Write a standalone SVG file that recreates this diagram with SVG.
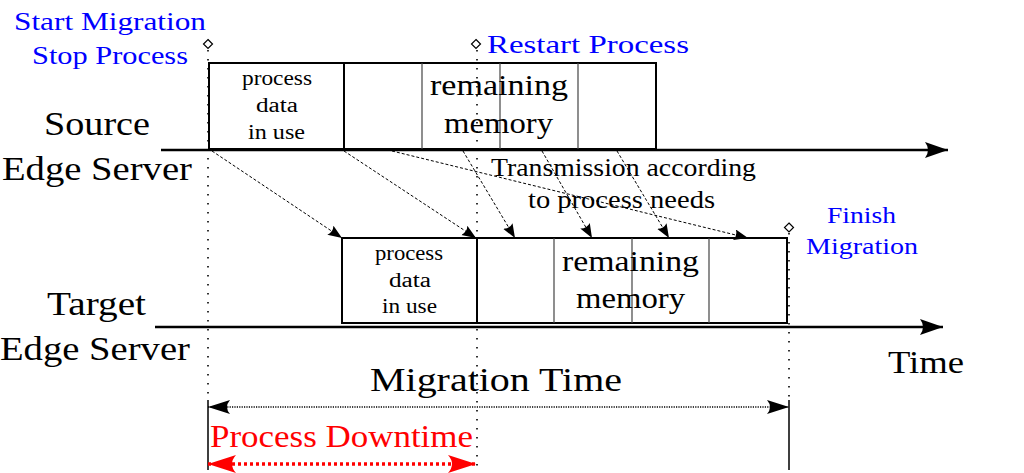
<svg xmlns="http://www.w3.org/2000/svg" width="1024" height="473" viewBox="0 0 1024 473">
<style>
text{font-family:"Liberation Serif","Times New Roman",Tinos,"Noto Serif","DejaVu Serif",Times,serif}
.blue{fill:#0000ff}
.red{fill:#ff0000}
.box{fill:none;stroke:#000;stroke-width:2}
.thin{stroke:#444;stroke-width:1.2}
.thick{stroke:#000;stroke-width:2}
.axis{stroke:#000;stroke-width:2.5;fill:none}
.vdot{stroke:#000;stroke-width:1.6;stroke-dasharray:1.6 7.4;fill:none}
.vsol{stroke:#000;stroke-width:1.5;fill:none}
.dash{stroke:#000;stroke-width:1;stroke-dasharray:3 2;fill:none}
.diam{fill:#fff;stroke:#000;stroke-width:1.2}
</style>
<defs>
<marker id="ah" markerUnits="userSpaceOnUse" markerWidth="24" markerHeight="18" refX="23" refY="8" orient="auto">
<path d="M0,0 L23,8 L0,16 Q6,8 0,0 Z" fill="#000"/>
</marker>
<marker id="sh" markerUnits="userSpaceOnUse" markerWidth="16" markerHeight="12" refX="14" refY="5.5" orient="auto">
<path d="M0,0 L14,5.5 L0,11 Q3.5,5.5 0,0 Z" fill="#000"/>
</marker>
<marker id="dh" markerUnits="userSpaceOnUse" markerWidth="24" markerHeight="16" refX="22" refY="7" orient="auto-start-reverse">
<path d="M0,0 L22,7 L0,14 Q6,7 0,0 Z" fill="#000"/>
</marker>
<marker id="rh" markerUnits="userSpaceOnUse" markerWidth="30" markerHeight="20" refX="28" refY="9" orient="auto-start-reverse">
<path d="M0,0 L28,9 L0,18 Q8,9 0,0 Z" fill="#ff0000"/>
</marker>
</defs>

<g id="timelines">
<line class="axis" x1="161" y1="150" x2="948" y2="150" marker-end="url(#ah)"/>
<line class="axis" x1="155" y1="327" x2="943" y2="327" marker-end="url(#ah)"/>
</g>

<g id="markers">
<path class="vdot" d="M208,50 V400 M477,50 V473 M789,233 V400"/>
<path class="vsol" d="M208,400 V470 M789,400 V470"/>
<path class="diam" d="M208,39.5 L212.5,44 L208,48.5 L203.5,44 Z"/>
<path class="diam" d="M476,39.5 L480.5,44 L476,48.5 L471.5,44 Z"/>
<path class="diam" d="M789,223 L793.5,227.5 L789,232 L784.5,227.5 Z"/>
</g>

<g id="source-box">
<rect class="box" x="209" y="63" width="447" height="86"/>
<line class="thick" x1="344" y1="63" x2="344" y2="149"/>
<line class="thin" x1="422" y1="63" x2="422" y2="149"/>
<line class="thin" x1="500" y1="63" x2="500" y2="149"/>
<line class="thin" x1="578" y1="63" x2="578" y2="149"/>
<text x="242" y="85" font-size="20" textLength="70" lengthAdjust="spacingAndGlyphs">process</text>
<text x="256" y="112" font-size="20" textLength="42" lengthAdjust="spacingAndGlyphs">data</text>
<text x="248" y="139" font-size="20" textLength="57" lengthAdjust="spacingAndGlyphs">in use</text>
<text x="430" y="95" font-size="29" textLength="138" lengthAdjust="spacingAndGlyphs">remaining</text>
<text x="444" y="133" font-size="29" textLength="109" lengthAdjust="spacingAndGlyphs">memory</text>
</g>

<g id="target-box">
<rect class="box" x="342" y="238" width="445" height="85"/>
<line class="thick" x1="477" y1="238" x2="477" y2="323" stroke-width="2.5"/>
<line class="thin" x1="554" y1="238" x2="554" y2="323"/>
<line class="thin" x1="632" y1="238" x2="632" y2="323"/>
<line class="thin" x1="709" y1="238" x2="709" y2="323"/>
<text x="375" y="260" font-size="20" textLength="68" lengthAdjust="spacingAndGlyphs">process</text>
<text x="389" y="287" font-size="20" textLength="42" lengthAdjust="spacingAndGlyphs">data</text>
<text x="382" y="313" font-size="20" textLength="55" lengthAdjust="spacingAndGlyphs">in use</text>
<text x="562" y="271" font-size="29" textLength="137" lengthAdjust="spacingAndGlyphs">remaining</text>
<text x="576" y="308" font-size="29" textLength="109" lengthAdjust="spacingAndGlyphs">memory</text>
</g>

<g id="connectors">
<line class="dash" x1="212" y1="151" x2="342" y2="238" marker-end="url(#sh)"/>
<line class="dash" x1="344" y1="151" x2="476" y2="238" marker-end="url(#sh)"/>
<line class="dash" x1="392" y1="151" x2="748" y2="238" marker-end="url(#sh)"/>
<line class="dash" x1="463" y1="151" x2="515" y2="238" marker-end="url(#sh)"/>
<line class="dash" x1="542" y1="151" x2="592" y2="238" marker-end="url(#sh)"/>
<line class="dash" x1="617" y1="151" x2="669" y2="238" marker-end="url(#sh)"/>
</g>

<g id="labels">
<text class="blue" x="14" y="30" font-size="26" textLength="192" lengthAdjust="spacingAndGlyphs">Start Migration</text>
<text class="blue" x="32" y="64" font-size="26" textLength="156" lengthAdjust="spacingAndGlyphs">Stop Process</text>
<text class="blue" x="487" y="53" font-size="26" textLength="202" lengthAdjust="spacingAndGlyphs">Restart Process</text>
<text class="blue" x="827" y="223" font-size="24" textLength="69" lengthAdjust="spacingAndGlyphs">Finish</text>
<text class="blue" x="806" y="254" font-size="24" textLength="112" lengthAdjust="spacingAndGlyphs">Migration</text>
<text x="44" y="135" font-size="34" textLength="106" lengthAdjust="spacingAndGlyphs">Source</text>
<text x="2" y="180" font-size="34" textLength="190" lengthAdjust="spacingAndGlyphs">Edge Server</text>
<text x="47" y="315" font-size="34" textLength="99" lengthAdjust="spacingAndGlyphs">Target</text>
<text x="0" y="360" font-size="34" textLength="190" lengthAdjust="spacingAndGlyphs">Edge Server</text>
<text x="888" y="373" font-size="32" textLength="76" lengthAdjust="spacingAndGlyphs">Time</text>
<text x="491" y="176" font-size="25" textLength="265" lengthAdjust="spacingAndGlyphs">Transmission according</text>
<text x="528" y="208" font-size="25" textLength="187" lengthAdjust="spacingAndGlyphs">to process needs</text>
</g>

<g id="durations">
<line x1="208" y1="407" x2="789" y2="407" stroke="#000" stroke-width="1.5" stroke-dasharray="1.2 1.2" marker-start="url(#dh)" marker-end="url(#dh)"/>
<text x="370" y="391" font-size="33" textLength="252" lengthAdjust="spacingAndGlyphs">Migration Time</text>
<line x1="208" y1="464" x2="476" y2="464" stroke="#ff0000" stroke-width="3.5" stroke-dasharray="3 3" marker-start="url(#rh)" marker-end="url(#rh)"/>
<text class="red" x="210" y="447" font-size="32" textLength="263" lengthAdjust="spacingAndGlyphs">Process Downtime</text>
</g>
</svg>
